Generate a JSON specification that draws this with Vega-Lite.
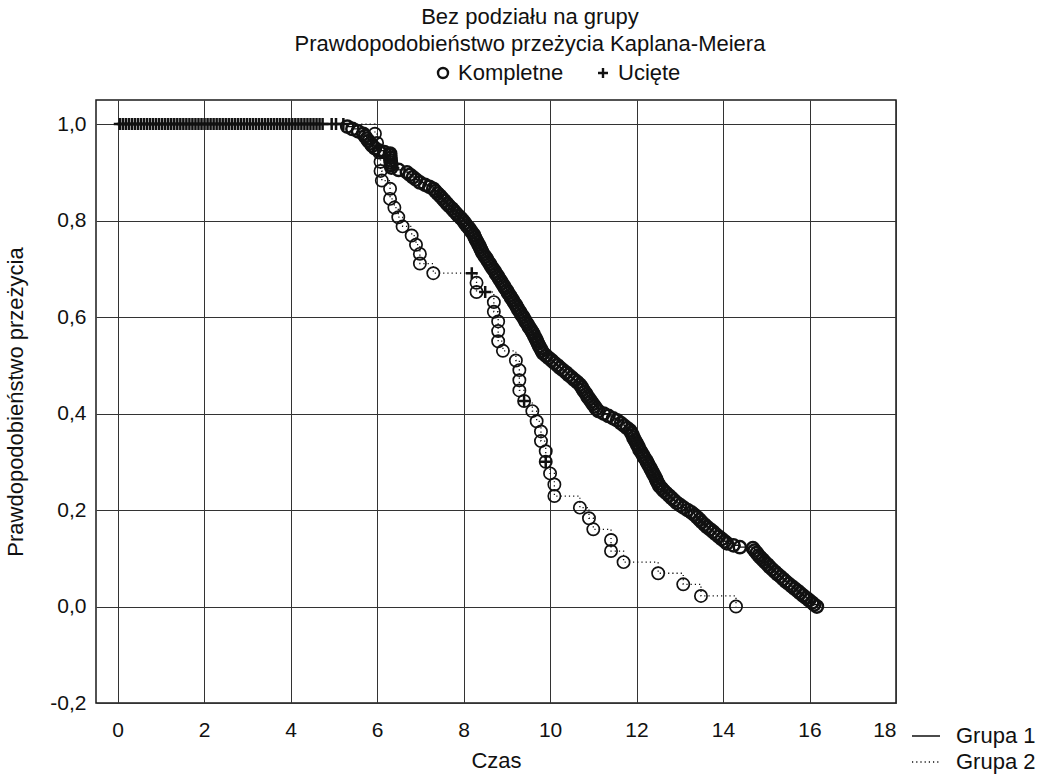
{
 "$schema": "https://vega.github.io/schema/vega-lite/v6.json",
 "width": 800, "height": 603,
 "autosize": {"type": "none"},
 "padding": {"left": 96, "top": 100, "right": 160, "bottom": 72},
 "background": "white",
 "config": {
  "font": "Liberation Sans",
  "view": {"stroke": "#1a1a1a", "strokeWidth": 1.5},
  "axis": {"grid": true, "gridColor": "#333", "gridWidth": 1, "gridOpacity": 1, "ticks": false, "domain": false,
   "labelFontSize": 21, "labelColor": "#111", "titleFontSize": 22, "titleFontWeight": "normal", "titleColor": "#111"},
  "legend": {"labelFontSize": 22, "labelColor": "#111", "title": null}
 },
 "title": {"text": ["Bez podziału na grupy", "Prawdopodobieństwo przeżycia Kaplana-Meiera"], "fontSize": 22, "fontWeight": "normal", "color": "#111", "lineHeight": 27, "anchor": "middle", "dx": 34, "offset": 6},
 "data": {"values": [
  {"g":1,"t":0,"s":1,"c":"S"},
  {"g":1,"t":0.05,"s":1,"c":"U"},{"g":1,"t":0.12,"s":1,"c":"U"},{"g":1,"t":0.19,"s":1,"c":"U"},{"g":1,"t":0.26,"s":1,"c":"U"},{"g":1,"t":0.33,"s":1,"c":"U"},{"g":1,"t":0.40,"s":1,"c":"U"},{"g":1,"t":0.47,"s":1,"c":"U"},{"g":1,"t":0.54,"s":1,"c":"U"},{"g":1,"t":0.61,"s":1,"c":"U"},{"g":1,"t":0.68,"s":1,"c":"U"},
  {"g":1,"t":0.75,"s":1,"c":"U"},{"g":1,"t":0.82,"s":1,"c":"U"},{"g":1,"t":0.89,"s":1,"c":"U"},{"g":1,"t":0.96,"s":1,"c":"U"},{"g":1,"t":1.03,"s":1,"c":"U"},{"g":1,"t":1.10,"s":1,"c":"U"},{"g":1,"t":1.17,"s":1,"c":"U"},{"g":1,"t":1.24,"s":1,"c":"U"},{"g":1,"t":1.31,"s":1,"c":"U"},{"g":1,"t":1.38,"s":1,"c":"U"},
  {"g":1,"t":1.45,"s":1,"c":"U"},{"g":1,"t":1.52,"s":1,"c":"U"},{"g":1,"t":1.59,"s":1,"c":"U"},{"g":1,"t":1.66,"s":1,"c":"U"},{"g":1,"t":1.73,"s":1,"c":"U"},{"g":1,"t":1.80,"s":1,"c":"U"},{"g":1,"t":1.87,"s":1,"c":"U"},{"g":1,"t":1.94,"s":1,"c":"U"},{"g":1,"t":2.01,"s":1,"c":"U"},{"g":1,"t":2.08,"s":1,"c":"U"},
  {"g":1,"t":2.15,"s":1,"c":"U"},{"g":1,"t":2.22,"s":1,"c":"U"},{"g":1,"t":2.29,"s":1,"c":"U"},{"g":1,"t":2.36,"s":1,"c":"U"},{"g":1,"t":2.43,"s":1,"c":"U"},{"g":1,"t":2.50,"s":1,"c":"U"},{"g":1,"t":2.57,"s":1,"c":"U"},{"g":1,"t":2.64,"s":1,"c":"U"},{"g":1,"t":2.71,"s":1,"c":"U"},{"g":1,"t":2.78,"s":1,"c":"U"},
  {"g":1,"t":2.85,"s":1,"c":"U"},{"g":1,"t":2.92,"s":1,"c":"U"},{"g":1,"t":2.99,"s":1,"c":"U"},{"g":1,"t":3.06,"s":1,"c":"U"},{"g":1,"t":3.13,"s":1,"c":"U"},{"g":1,"t":3.20,"s":1,"c":"U"},{"g":1,"t":3.27,"s":1,"c":"U"},{"g":1,"t":3.34,"s":1,"c":"U"},{"g":1,"t":3.41,"s":1,"c":"U"},{"g":1,"t":3.48,"s":1,"c":"U"},
  {"g":1,"t":3.55,"s":1,"c":"U"},{"g":1,"t":3.62,"s":1,"c":"U"},{"g":1,"t":3.69,"s":1,"c":"U"},{"g":1,"t":3.76,"s":1,"c":"U"},{"g":1,"t":3.83,"s":1,"c":"U"},{"g":1,"t":3.90,"s":1,"c":"U"},{"g":1,"t":3.97,"s":1,"c":"U"},{"g":1,"t":4.04,"s":1,"c":"U"},{"g":1,"t":4.11,"s":1,"c":"U"},{"g":1,"t":4.18,"s":1,"c":"U"},
  {"g":1,"t":4.25,"s":1,"c":"U"},{"g":1,"t":4.32,"s":1,"c":"U"},{"g":1,"t":4.39,"s":1,"c":"U"},{"g":1,"t":4.46,"s":1,"c":"U"},{"g":1,"t":4.53,"s":1,"c":"U"},{"g":1,"t":4.60,"s":1,"c":"U"},{"g":1,"t":4.67,"s":1,"c":"U"},{"g":1,"t":4.74,"s":1,"c":"U"},{"g":1,"t":4.95,"s":1,"c":"U"},{"g":1,"t":5.05,"s":1,"c":"U"},{"g":1,"t":5.22,"s":1,"c":"U"},
  {"g":1,"t":5.31,"s":0.995,"c":"K"},{"g":1,"t":5.43,"s":0.99,"c":"K"},{"g":1,"t":5.56,"s":0.985,"c":"K"},{"g":1,"t":5.68,"s":0.98,"c":"K"},{"g":1,"t":5.72,"s":0.975,"c":"K"},{"g":1,"t":5.76,"s":0.97,"c":"K"},{"g":1,"t":5.80,"s":0.965,"c":"K"},{"g":1,"t":5.85,"s":0.96,"c":"K"},{"g":1,"t":5.89,"s":0.955,"c":"K"},{"g":1,"t":5.95,"s":0.95,"c":"K"},
  {"g":1,"t":6.05,"s":0.945,"c":"K"},{"g":1,"t":6.17,"s":0.942,"c":"K"},{"g":1,"t":6.30,"s":0.939,"c":"K"},{"g":1,"t":6.30,"s":0.935,"c":"K"},{"g":1,"t":6.31,"s":0.93,"c":"K"},{"g":1,"t":6.31,"s":0.925,"c":"K"},{"g":1,"t":6.32,"s":0.92,"c":"K"},{"g":1,"t":6.32,"s":0.915,"c":"K"},{"g":1,"t":6.33,"s":0.91,"c":"K"},{"g":1,"t":6.50,"s":0.905,"c":"K"},
  {"g":1,"t":6.69,"s":0.90,"c":"K"},{"g":1,"t":6.76,"s":0.895,"c":"K"},{"g":1,"t":6.83,"s":0.89,"c":"K"},{"g":1,"t":6.90,"s":0.885,"c":"K"},{"g":1,"t":6.99,"s":0.879,"c":"K"},{"g":1,"t":7.11,"s":0.874,"c":"K"},{"g":1,"t":7.21,"s":0.87,"c":"K"},{"g":1,"t":7.30,"s":0.866,"c":"K"},{"g":1,"t":7.35,"s":0.861,"c":"K"},{"g":1,"t":7.40,"s":0.856,"c":"K"},
  {"g":1,"t":7.46,"s":0.851,"c":"K"},{"g":1,"t":7.51,"s":0.846,"c":"K"},{"g":1,"t":7.56,"s":0.841,"c":"K"},{"g":1,"t":7.62,"s":0.835,"c":"K"},{"g":1,"t":7.67,"s":0.83,"c":"K"},{"g":1,"t":7.73,"s":0.825,"c":"K"},{"g":1,"t":7.78,"s":0.82,"c":"K"},{"g":1,"t":7.83,"s":0.815,"c":"K"},{"g":1,"t":7.88,"s":0.81,"c":"K"},{"g":1,"t":7.94,"s":0.805,"c":"K"},
  {"g":1,"t":7.99,"s":0.80,"c":"K"},{"g":1,"t":8.03,"s":0.795,"c":"K"},{"g":1,"t":8.07,"s":0.79,"c":"K"},{"g":1,"t":8.12,"s":0.785,"c":"K"},{"g":1,"t":8.16,"s":0.78,"c":"K"},{"g":1,"t":8.20,"s":0.775,"c":"K"},{"g":1,"t":8.24,"s":0.77,"c":"K"},{"g":1,"t":8.26,"s":0.765,"c":"K"},{"g":1,"t":8.29,"s":0.76,"c":"K"},{"g":1,"t":8.32,"s":0.755,"c":"K"},
  {"g":1,"t":8.35,"s":0.75,"c":"K"},{"g":1,"t":8.38,"s":0.745,"c":"K"},{"g":1,"t":8.40,"s":0.74,"c":"K"},{"g":1,"t":8.43,"s":0.735,"c":"K"},{"g":1,"t":8.46,"s":0.73,"c":"K"},{"g":1,"t":8.50,"s":0.725,"c":"K"},{"g":1,"t":8.54,"s":0.72,"c":"K"},{"g":1,"t":8.57,"s":0.715,"c":"K"},{"g":1,"t":8.61,"s":0.71,"c":"K"},{"g":1,"t":8.64,"s":0.705,"c":"K"},
  {"g":1,"t":8.68,"s":0.70,"c":"K"},{"g":1,"t":8.72,"s":0.695,"c":"K"},{"g":1,"t":8.75,"s":0.69,"c":"K"},{"g":1,"t":8.79,"s":0.685,"c":"K"},{"g":1,"t":8.82,"s":0.68,"c":"K"},{"g":1,"t":8.86,"s":0.675,"c":"K"},{"g":1,"t":8.89,"s":0.67,"c":"K"},{"g":1,"t":8.93,"s":0.665,"c":"K"},{"g":1,"t":8.96,"s":0.66,"c":"K"},{"g":1,"t":9.00,"s":0.655,"c":"K"},
  {"g":1,"t":9.03,"s":0.65,"c":"K"},{"g":1,"t":9.07,"s":0.645,"c":"K"},{"g":1,"t":9.10,"s":0.64,"c":"K"},{"g":1,"t":9.14,"s":0.635,"c":"K"},{"g":1,"t":9.17,"s":0.63,"c":"K"},{"g":1,"t":9.21,"s":0.625,"c":"K"},{"g":1,"t":9.24,"s":0.62,"c":"K"},{"g":1,"t":9.27,"s":0.615,"c":"K"},{"g":1,"t":9.31,"s":0.61,"c":"K"},{"g":1,"t":9.34,"s":0.605,"c":"K"},
  {"g":1,"t":9.38,"s":0.60,"c":"K"},{"g":1,"t":9.41,"s":0.595,"c":"K"},{"g":1,"t":9.44,"s":0.59,"c":"K"},{"g":1,"t":9.48,"s":0.585,"c":"K"},{"g":1,"t":9.51,"s":0.58,"c":"K"},{"g":1,"t":9.55,"s":0.575,"c":"K"},{"g":1,"t":9.58,"s":0.57,"c":"K"},{"g":1,"t":9.61,"s":0.566,"c":"K"},{"g":1,"t":9.64,"s":0.56,"c":"K"},{"g":1,"t":9.67,"s":0.555,"c":"K"},
  {"g":1,"t":9.70,"s":0.55,"c":"K"},{"g":1,"t":9.72,"s":0.545,"c":"K"},{"g":1,"t":9.75,"s":0.54,"c":"K"},{"g":1,"t":9.78,"s":0.535,"c":"K"},{"g":1,"t":9.81,"s":0.53,"c":"K"},{"g":1,"t":9.84,"s":0.525,"c":"K"},{"g":1,"t":9.91,"s":0.52,"c":"K"},{"g":1,"t":9.97,"s":0.515,"c":"K"},{"g":1,"t":10.04,"s":0.51,"c":"K"},{"g":1,"t":10.10,"s":0.505,"c":"K"},
  {"g":1,"t":10.17,"s":0.50,"c":"K"},{"g":1,"t":10.23,"s":0.495,"c":"K"},{"g":1,"t":10.30,"s":0.49,"c":"K"},{"g":1,"t":10.37,"s":0.485,"c":"K"},{"g":1,"t":10.43,"s":0.48,"c":"K"},{"g":1,"t":10.50,"s":0.475,"c":"K"},{"g":1,"t":10.56,"s":0.47,"c":"K"},{"g":1,"t":10.63,"s":0.465,"c":"K"},{"g":1,"t":10.69,"s":0.46,"c":"K"},{"g":1,"t":10.73,"s":0.455,"c":"K"},
  {"g":1,"t":10.76,"s":0.45,"c":"K"},{"g":1,"t":10.80,"s":0.445,"c":"K"},{"g":1,"t":10.84,"s":0.44,"c":"K"},{"g":1,"t":10.87,"s":0.435,"c":"K"},{"g":1,"t":10.91,"s":0.43,"c":"K"},{"g":1,"t":10.95,"s":0.425,"c":"K"},{"g":1,"t":10.99,"s":0.42,"c":"K"},{"g":1,"t":11.03,"s":0.415,"c":"K"},{"g":1,"t":11.07,"s":0.41,"c":"K"},{"g":1,"t":11.12,"s":0.405,"c":"K"},
  {"g":1,"t":11.24,"s":0.40,"c":"K"},{"g":1,"t":11.35,"s":0.395,"c":"K"},{"g":1,"t":11.46,"s":0.39,"c":"K"},{"g":1,"t":11.55,"s":0.386,"c":"K"},{"g":1,"t":11.64,"s":0.38,"c":"K"},{"g":1,"t":11.71,"s":0.375,"c":"K"},{"g":1,"t":11.78,"s":0.37,"c":"K"},{"g":1,"t":11.85,"s":0.365,"c":"K"},{"g":1,"t":11.88,"s":0.36,"c":"K"},{"g":1,"t":11.91,"s":0.355,"c":"K"},
  {"g":1,"t":11.93,"s":0.35,"c":"K"},{"g":1,"t":11.96,"s":0.345,"c":"K"},{"g":1,"t":11.99,"s":0.34,"c":"K"},{"g":1,"t":12.02,"s":0.335,"c":"K"},{"g":1,"t":12.05,"s":0.33,"c":"K"},{"g":1,"t":12.07,"s":0.325,"c":"K"},{"g":1,"t":12.11,"s":0.32,"c":"K"},{"g":1,"t":12.14,"s":0.315,"c":"K"},{"g":1,"t":12.17,"s":0.31,"c":"K"},{"g":1,"t":12.21,"s":0.305,"c":"K"},
  {"g":1,"t":12.24,"s":0.30,"c":"K"},{"g":1,"t":12.27,"s":0.295,"c":"K"},{"g":1,"t":12.30,"s":0.29,"c":"K"},{"g":1,"t":12.33,"s":0.285,"c":"K"},{"g":1,"t":12.36,"s":0.28,"c":"K"},{"g":1,"t":12.39,"s":0.275,"c":"K"},{"g":1,"t":12.42,"s":0.27,"c":"K"},{"g":1,"t":12.45,"s":0.265,"c":"K"},{"g":1,"t":12.47,"s":0.26,"c":"K"},{"g":1,"t":12.50,"s":0.255,"c":"K"},
  {"g":1,"t":12.53,"s":0.25,"c":"K"},{"g":1,"t":12.58,"s":0.245,"c":"K"},{"g":1,"t":12.63,"s":0.24,"c":"K"},{"g":1,"t":12.69,"s":0.235,"c":"K"},{"g":1,"t":12.75,"s":0.23,"c":"K"},{"g":1,"t":12.81,"s":0.225,"c":"K"},{"g":1,"t":12.87,"s":0.22,"c":"K"},{"g":1,"t":12.93,"s":0.215,"c":"K"},{"g":1,"t":13.01,"s":0.21,"c":"K"},{"g":1,"t":13.09,"s":0.205,"c":"K"},
  {"g":1,"t":13.18,"s":0.20,"c":"K"},{"g":1,"t":13.27,"s":0.195,"c":"K"},{"g":1,"t":13.34,"s":0.19,"c":"K"},{"g":1,"t":13.40,"s":0.185,"c":"K"},{"g":1,"t":13.46,"s":0.18,"c":"K"},{"g":1,"t":13.51,"s":0.175,"c":"K"},{"g":1,"t":13.57,"s":0.17,"c":"K"},{"g":1,"t":13.63,"s":0.165,"c":"K"},{"g":1,"t":13.70,"s":0.16,"c":"K"},{"g":1,"t":13.77,"s":0.155,"c":"K"},
  {"g":1,"t":13.83,"s":0.15,"c":"K"},{"g":1,"t":13.90,"s":0.145,"c":"K"},{"g":1,"t":13.97,"s":0.14,"c":"K"},{"g":1,"t":14.04,"s":0.135,"c":"K"},{"g":1,"t":14.09,"s":0.131,"c":"K"},{"g":1,"t":14.24,"s":0.127,"c":"K"},{"g":1,"t":14.39,"s":0.123,"c":"K"},{"g":1,"t":14.69,"s":0.121,"c":"K"},{"g":1,"t":14.73,"s":0.116,"c":"K"},{"g":1,"t":14.78,"s":0.111,"c":"K"},
  {"g":1,"t":14.82,"s":0.106,"c":"K"},{"g":1,"t":14.86,"s":0.102,"c":"K"},{"g":1,"t":14.92,"s":0.097,"c":"K"},{"g":1,"t":14.97,"s":0.092,"c":"K"},{"g":1,"t":15.03,"s":0.087,"c":"K"},{"g":1,"t":15.08,"s":0.082,"c":"K"},{"g":1,"t":15.14,"s":0.077,"c":"K"},{"g":1,"t":15.20,"s":0.072,"c":"K"},{"g":1,"t":15.26,"s":0.067,"c":"K"},{"g":1,"t":15.33,"s":0.062,"c":"K"},
  {"g":1,"t":15.39,"s":0.057,"c":"K"},{"g":1,"t":15.45,"s":0.052,"c":"K"},{"g":1,"t":15.52,"s":0.047,"c":"K"},{"g":1,"t":15.59,"s":0.042,"c":"K"},{"g":1,"t":15.66,"s":0.037,"c":"K"},{"g":1,"t":15.73,"s":0.032,"c":"K"},{"g":1,"t":15.78,"s":0.028,"c":"K"},{"g":1,"t":15.85,"s":0.023,"c":"K"},{"g":1,"t":15.92,"s":0.018,"c":"K"},{"g":1,"t":15.99,"s":0.013,"c":"K"},
  {"g":1,"t":16.06,"s":0.008,"c":"K"},{"g":1,"t":16.11,"s":0.004,"c":"K"},{"g":1,"t":16.17,"s":0,"c":"K"},
  {"g":2,"t":0,"s":1,"c":"S"},
  {"g":2,"t":5.95,"s":0.980,"c":"K"},{"g":2,"t":6.00,"s":0.961,"c":"K"},{"g":2,"t":6.05,"s":0.941,"c":"K"},{"g":2,"t":6.08,"s":0.922,"c":"K"},{"g":2,"t":6.08,"s":0.903,"c":"K"},{"g":2,"t":6.11,"s":0.883,"c":"K"},{"g":2,"t":6.30,"s":0.866,"c":"K"},{"g":2,"t":6.30,"s":0.845,"c":"K"},{"g":2,"t":6.40,"s":0.827,"c":"K"},{"g":2,"t":6.49,"s":0.807,"c":"K"},
  {"g":2,"t":6.59,"s":0.788,"c":"K"},{"g":2,"t":6.80,"s":0.769,"c":"K"},{"g":2,"t":6.90,"s":0.750,"c":"K"},{"g":2,"t":6.99,"s":0.731,"c":"K"},{"g":2,"t":6.99,"s":0.711,"c":"K"},{"g":2,"t":7.30,"s":0.691,"c":"K"},{"g":2,"t":8.19,"s":0.691,"c":"U"},{"g":2,"t":8.30,"s":0.671,"c":"K"},{"g":2,"t":8.30,"s":0.652,"c":"K"},{"g":2,"t":8.50,"s":0.652,"c":"U"},
  {"g":2,"t":8.70,"s":0.631,"c":"K"},{"g":2,"t":8.70,"s":0.611,"c":"K"},{"g":2,"t":8.80,"s":0.591,"c":"K"},{"g":2,"t":8.80,"s":0.571,"c":"K"},{"g":2,"t":8.80,"s":0.550,"c":"K"},{"g":2,"t":8.91,"s":0.530,"c":"K"},{"g":2,"t":9.21,"s":0.510,"c":"K"},{"g":2,"t":9.29,"s":0.490,"c":"K"},{"g":2,"t":9.29,"s":0.469,"c":"K"},{"g":2,"t":9.29,"s":0.448,"c":"K"},
  {"g":2,"t":9.40,"s":0.426,"c":"K"},{"g":2,"t":9.40,"s":0.426,"c":"U"},{"g":2,"t":9.59,"s":0.405,"c":"K"},{"g":2,"t":9.69,"s":0.384,"c":"K"},{"g":2,"t":9.79,"s":0.363,"c":"K"},{"g":2,"t":9.79,"s":0.343,"c":"K"},{"g":2,"t":9.90,"s":0.322,"c":"K"},{"g":2,"t":9.90,"s":0.300,"c":"K"},{"g":2,"t":9.90,"s":0.300,"c":"U"},{"g":2,"t":10.0,"s":0.276,"c":"K"},
  {"g":2,"t":10.1,"s":0.253,"c":"K"},{"g":2,"t":10.1,"s":0.229,"c":"K"},{"g":2,"t":10.69,"s":0.205,"c":"K"},{"g":2,"t":10.9,"s":0.183,"c":"K"},{"g":2,"t":11.0,"s":0.160,"c":"K"},{"g":2,"t":11.41,"s":0.138,"c":"K"},{"g":2,"t":11.41,"s":0.115,"c":"K"},{"g":2,"t":11.70,"s":0.092,"c":"K"},{"g":2,"t":12.50,"s":0.069,"c":"K"},{"g":2,"t":13.08,"s":0.046,"c":"K"},
  {"g":2,"t":13.49,"s":0.022,"c":"K"},{"g":2,"t":14.30,"s":0,"c":"K"}
 ]},
 "encoding": {
  "x": {"field": "t", "type": "quantitative", "scale": {"domain": [-0.5, 18], "nice": false, "zero": false},
   "axis": {"values": [0, 2, 4, 6, 8, 10, 12, 14, 16, 18], "labelPadding": 16, "title": "Czas", "titlePadding": 10}},
  "y": {"field": "s", "type": "quantitative", "scale": {"domain": [-0.2, 1.05], "nice": false, "zero": false},
   "axis": {"values": [-0.2, 0, 0.2, 0.4, 0.6, 0.8, 1.0], "labelPadding": 10, "title": "Prawdopodobieństwo przeżycia", "titlePadding": 22,
    "labelExpr": "replace(replace(format(datum.value, '.1f'), '.', ','), '\u2212', '-')"}}
 },
 "layer": [
  {"mark": {"type": "line", "interpolate": "step-after", "color": "#111", "strokeWidth": 1.3},
   "encoding": {
    "strokeDash": {"field": "g", "type": "nominal", "scale": {"domain": [1, 2], "range": [[1, 0], [1.2, 3]]},
     "legend": {"orient": "none", "legendX": 815, "legendY": 621, "symbolType": "stroke", "symbolSize": 784, "symbolStrokeWidth": 1.3, "symbolStrokeColor": "#111", "rowPadding": -6, "labelOffset": 15,
      "labelExpr": "'Grupa ' + datum.label"}},
    "order": [{"field": "t", "type": "quantitative"}, {"field": "s", "type": "quantitative", "sort": "descending"}]
   }},
  {"transform": [{"filter": "datum.c != 'S'"}],
   "mark": {"type": "point", "filled": false, "stroke": "#111", "opacity": 1},
   "encoding": {
    "shape": {"field": "c", "type": "nominal", "scale": {"domain": ["K", "U"], "range": ["circle", "M-1,0H1M0,-1V1"]},
     "legend": {"orient": "none", "direction": "horizontal", "legendX": 336, "legendY": -38, "symbolSize": 100, "symbolStrokeWidth": 2.4, "symbolStrokeColor": "#111", "symbolFillColor": "transparent", "columnPadding": 28,
      "labelExpr": "datum.label == 'K' ? 'Kompletne' : 'Ucięte'"}},
    "size": {"condition": {"test": "datum.c == 'U'", "value": 144}, "value": 150},
    "strokeWidth": {"condition": [{"test": "datum.c == 'U'", "value": 2.5}, {"test": "datum.g == 1", "value": 2.5}], "value": 1.7}
   }}
 ]
}
